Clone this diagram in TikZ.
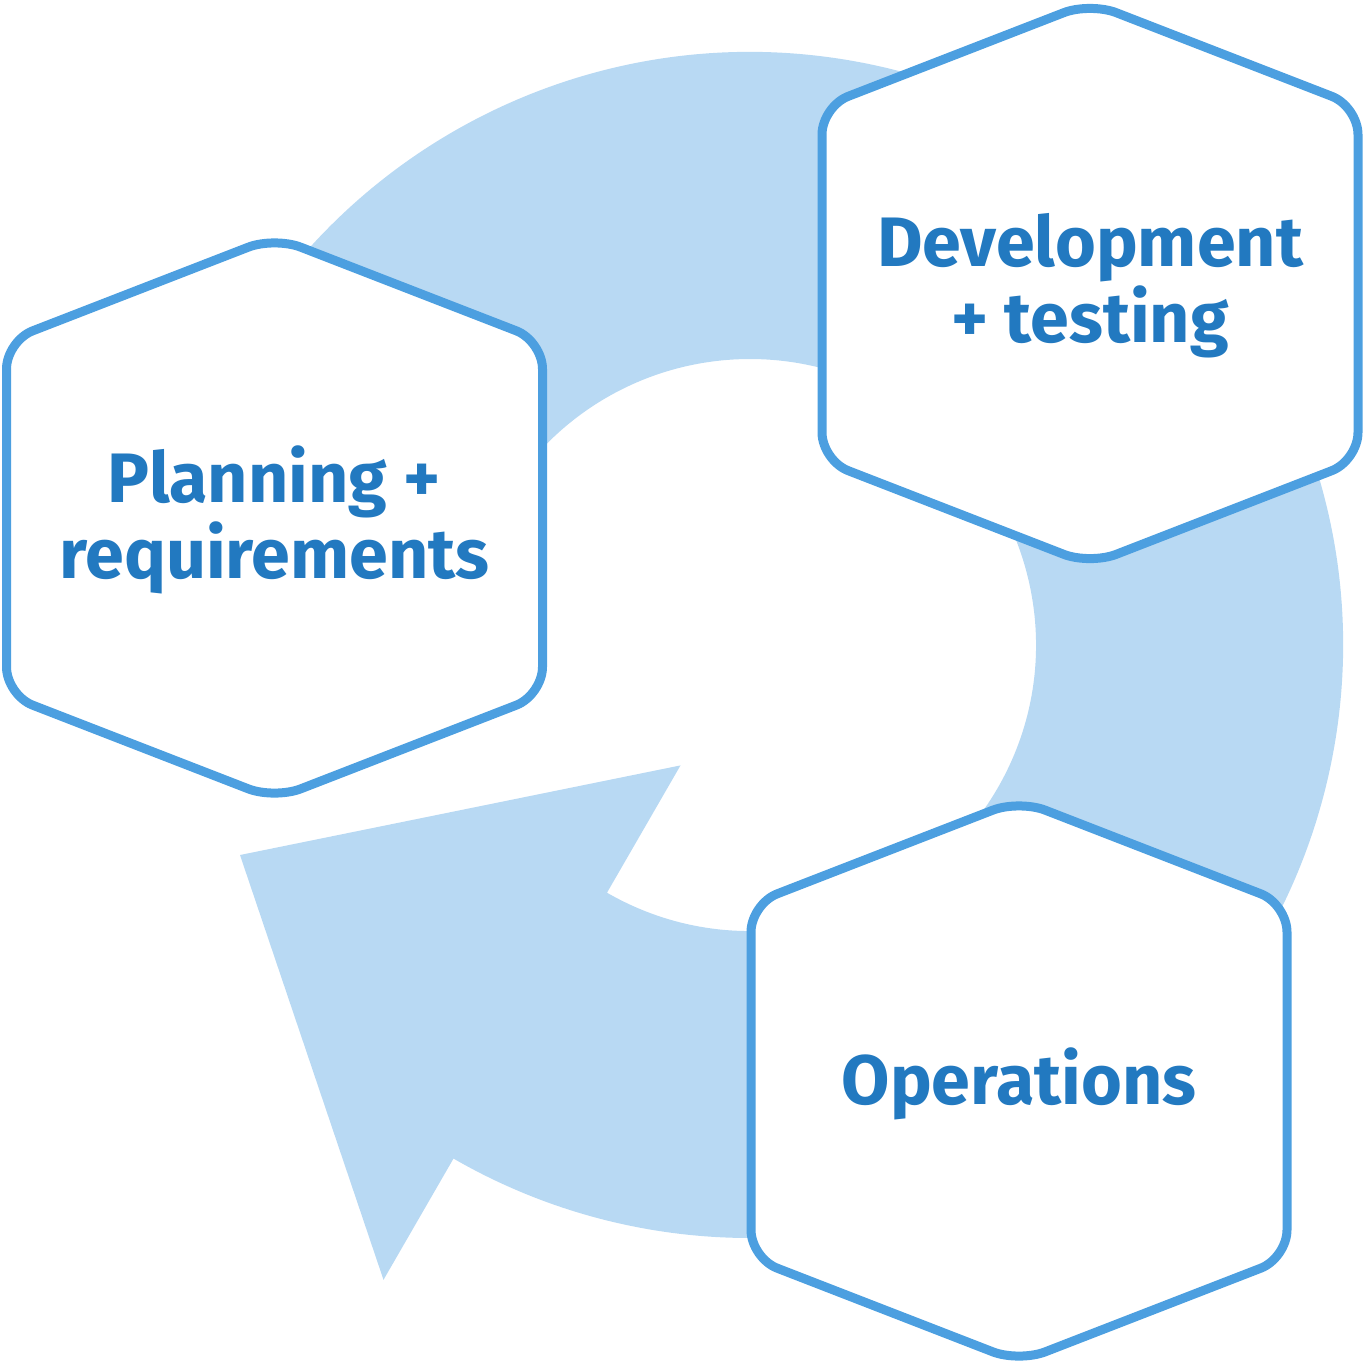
\documentclass[tikz,border=0pt]{standalone}
\usepackage{fontspec}
\setmainfont{Fira Sans}
\usetikzlibrary{calc}
\definecolor{ringblue}{HTML}{B8D9F3}
\definecolor{hexblue}{HTML}{4C9FE0}
\definecolor{txtblue}{HTML}{2279C0}
\tikzset{
  hexbox/.style={draw=hexblue, line width=9pt, fill=white, rounded corners=28pt, line join=round},
  lbl/.style={text=txtblue, font=\fontsize{70}{76}\selectfont\bfseries, align=center, inner sep=0pt},
}
\newcommand\hexshape[2]{%
  \draw[hexbox] (#1+268,#2) -- (#1+268,#2+177) -- (#1,#2+281) -- (#1-268,#2+177)
    -- (#1-268,#2-177) -- (#1,#2-281) -- (#1+268,#2-177) -- cycle;}
\begin{document}
\begin{tikzpicture}[x=1pt,y=1pt]
\begin{scope}[yscale=-1]
\useasboundingbox (0,0) rectangle (1365,1366);
\coordinate (C) at (750,645);
\coordinate (headout) at (383.5,1279.8);
\coordinate (tip) at (240,855);
\coordinate (headin) at (680.5,765.4);
\fill[ringblue] ($(C)+(-165:593)$) arc[start angle=-165,end angle=120,radius=593]
  -- (headout) -- (tip) -- (headin) -- ($(C)+(120:286)$)
  arc[start angle=120,end angle=-165,radius=286] -- cycle;
\hexshape{274.5}{518}
\hexshape{1090}{283.5}
\hexshape{1019}{1081}
\node[lbl] (plan) at (274.5,520) {Planning +\\requirements};
\node[lbl] (dev) at (1090,286) {Development\\+ testing};
\node[lbl] (ops) at (1019,1084) {Operations};
\end{scope}
\end{tikzpicture}
\end{document}
